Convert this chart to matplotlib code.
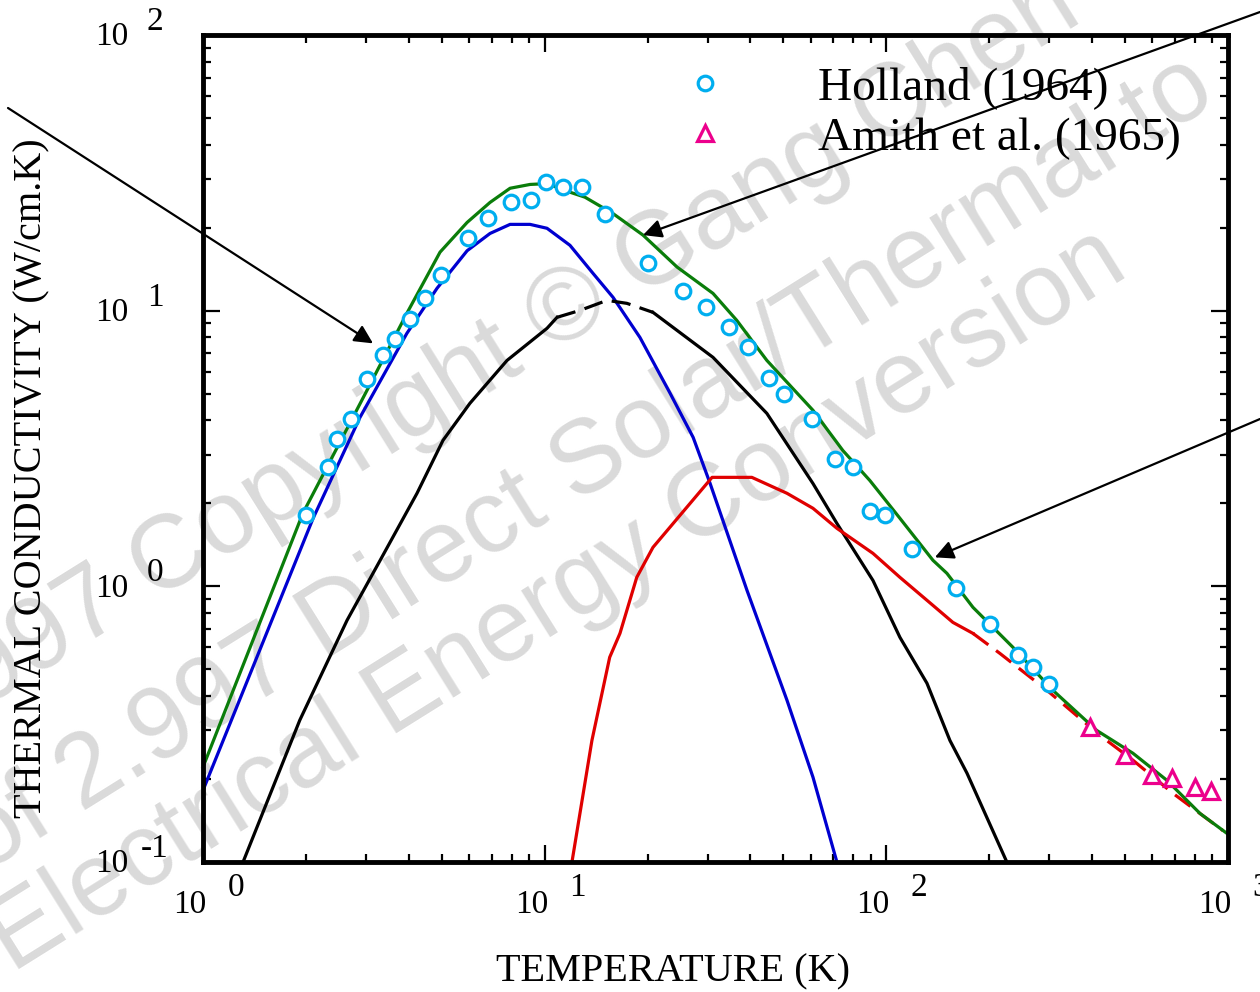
import matplotlib
matplotlib.use("Agg")
import matplotlib.pyplot as plt

plt.rcParams['font.family'] = ['Liberation Serif', 'DejaVu Serif']

# Holland (1964) measurements
holland_T = [2.0, 2.32, 2.47, 2.71, 3.02, 3.36, 3.65, 4.03, 4.46, 4.97, 5.96, 6.82,
             7.97, 9.12, 10.1, 11.3, 12.9, 15.0, 20.1, 25.4, 29.6, 34.6, 39.4, 45.3,
             50.2, 60.6, 70.7, 79.8, 89.5, 99.1, 119, 160, 201, 243, 269, 299]
holland_k = [1.81, 2.70, 3.41, 4.03, 5.63, 6.88, 7.87, 9.30, 11.1, 13.5, 18.3, 21.6,
             24.7, 25.3, 29.2, 28.2, 28.2, 22.4, 14.9, 11.8, 10.3, 8.70, 7.36, 5.68,
             4.97, 4.03, 2.89, 2.70, 1.87, 1.81, 1.37, 0.99, 0.728, 0.562, 0.508, 0.441]

# Amith et al. (1965)
amith_T = [394, 499, 599, 685, 800, 891]
amith_k = [0.308, 0.244, 0.206, 0.201, 0.187, 0.181]

# total (green)
total_T = [1.0, 1.96, 3.02, 3.95, 4.94, 5.93, 6.92, 7.92, 9.06, 10.16, 11.86, 13.12,
           15.85, 19.4, 24.4, 31.1, 36.5, 44.7, 61.0, 74.6, 89.5, 109.6, 136.9, 150.4,
           179.3, 234.7, 307, 413, 527, 662, 828, 993]
total_k = [0.221, 1.84, 5.14, 9.78, 16.3, 20.9, 24.7, 27.8, 28.7, 28.9, 26.9, 25.8,
           22.5, 18.8, 14.4, 11.55, 9.22, 6.60, 4.35, 3.11, 2.42, 1.765, 1.243, 1.115,
           0.839, 0.601, 0.420, 0.300, 0.248, 0.198, 0.150, 0.127]

# blue branch
blue_T = [1.0, 2.10, 2.88, 3.95, 4.84, 5.93, 6.92, 7.92, 9.06, 10.16, 11.86, 13.85,
          15.85, 19.0, 23.3, 27.2, 30.5, 39.1, 51.2, 61.0, 71.7]
blue_k = [0.182, 1.765, 4.10, 8.27, 12.05, 16.5, 19.06, 20.56, 20.56, 19.9, 17.26, 13.66,
          11.18, 8.0, 5.01, 3.47, 2.36, 0.967, 0.386, 0.203, 0.0998]

# black branch (solid / dashed / solid)
black1_T = [1.31, 1.92, 2.64, 3.30, 4.23, 5.04, 6.04, 7.76, 10.16, 10.87]
black1_k = [0.1, 0.327, 0.753, 1.243, 2.175, 3.385, 4.61, 6.60, 8.63, 9.46]
black2_T = [10.87, 12.68, 15.22, 17.41, 20.75]
black2_k = [9.46, 10.02, 10.90, 10.63, 9.86]
black3_T = [20.75, 31.1, 44.7, 61.0, 71.7, 91.4, 109.6, 131.5, 153.5, 172.2, 225.4]
black3_k = [9.86, 6.77, 4.24, 2.36, 1.69, 1.05, 0.653, 0.445, 0.276, 0.210, 0.0998]

# red branch (solid / dashed)
red1_T = [12.02, 13.75, 15.5, 16.61, 18.6, 20.75, 30.9, 40.4, 51.2, 61.0, 71.7, 91.4,
          109.6, 136.9, 156.6, 179.3]
red1_k = [0.1, 0.276, 0.553, 0.675, 1.078, 1.385, 2.485, 2.485, 2.175, 1.919, 1.623,
          1.317, 1.078, 0.853, 0.740, 0.675]
red2_T = [179.3, 215, 295, 422, 527, 690, 966]
red2_k = [0.675, 0.571, 0.420, 0.288, 0.234, 0.1775, 0.130]

x_ticks = [1, 10, 100, 1000]
x_exps = ['0', '1', '2', '3']
y_ticks = [0.1, 1, 10, 100]
y_exps = ['-1', '0', '1', '2']

W, H = 1260, 992
fig = plt.figure(figsize=(W / 100, H / 100), dpi=100)
ax = fig.add_axes([203 / W, 1 - 862 / H, (1228 - 203) / W, (862 - 35) / H])
ax.set_zorder(1)
ax.patch.set_alpha(0)

# watermark
wm = dict(rotation=32, ha='center', va='center', fontsize=74, color='#dadada',
          family='Liberation Sans', zorder=0)
fig.text(484 / W, 1 - 364 / H, '2.997 Copyright \u00a9 Gang Chen', **wm)
fig.text(588 / W, 1 - 464 / H, 'of 2.997 Direct Solar/Thermal to', **wm)
fig.text(558 / W, 1 - 601 / H, 'Electrical Energy Conversion', **wm)

lw = 2.3
ax.plot(blue_T, blue_k, color='#0000d0', lw=lw)
ax.plot(black1_T, black1_k, color='black', lw=lw)
ax.plot(black2_T, black2_k, color='black', lw=lw, dashes=(6, 3))
ax.plot(black3_T, black3_k, color='black', lw=lw)
ax.plot(red1_T, red1_k, color='#e00000', lw=lw)
ax.plot(red2_T, red2_k, color='#e00000', lw=lw, dashes=(6, 3))
ax.plot(total_T, total_k, color='#0a7d0a', lw=lw)

ax.plot(holland_T, holland_k, 'o', ms=10.5, mew=2.3, mfc='white', mec='#00aeef',
        ls='none', label='Holland (1964)')
ax.plot(amith_T, amith_k, '^', ms=11, mew=2.3, mfc='white', mec='#ec008c',
        ls='none', label='Amith et al. (1965)')

ax.set_xscale('log')
ax.set_yscale('log')
ax.set_xlim(1, 1000)
ax.set_ylim(0.1, 100)

for s in ax.spines.values():
    s.set_linewidth(3.5)
ax.tick_params(which='both', direction='in', top=True, right=True, width=1.6,
               labelbottom=False, labelleft=False)
ax.tick_params(which='major', length=12)
ax.tick_params(which='minor', length=6)

# tick labels drawn as "10" plus a raised exponent
for t, e in zip(x_ticks, x_exps):
    ax.annotate('10', xy=(t, 0), xycoords=('data', 'axes fraction'),
                xytext=(-9.5, -31), textcoords='offset points',
                ha='center', va='center', fontsize=24, annotation_clip=False)
    ax.annotate(e, xy=(t, 0), xycoords=('data', 'axes fraction'),
                xytext=(23.5, -18.5), textcoords='offset points',
                ha='center', va='center', fontsize=24, annotation_clip=False)
for t, e in zip(y_ticks, y_exps):
    ax.annotate('10', xy=(0, t), xycoords=('axes fraction', 'data'),
                xytext=(-65.5, -1.5), textcoords='offset points',
                ha='center', va='center', fontsize=24, annotation_clip=False)
    ax.annotate(e, xy=(0, t), xycoords=('axes fraction', 'data'),
                xytext=(-34.5, 9.5), textcoords='offset points',
                ha='center', va='center', fontsize=24, annotation_clip=False)

fig.text(673 / W, 1 - 972 / H, 'TEMPERATURE (K)', ha='center', va='center', fontsize=29)
fig.text(32 / W, 1 - 478 / H, 'THERMAL CONDUCTIVITY (W/cm.K)', ha='center', va='center',
         rotation=90, fontsize=29)

ax.legend(loc='upper left', bbox_to_anchor=(681 / W, 1 - 66 / H),
          bbox_transform=fig.transFigure, frameon=False, fontsize=34,
          handlelength=1.0, handletextpad=1.9, labelspacing=0.16,
          borderpad=0, borderaxespad=0)

# callout arrows
arrow = dict(arrowstyle='-|>', color='black', lw=1.6, mutation_scale=28,
             shrinkA=0, shrinkB=0)
ax.annotate('', xy=(3.145, 7.61), xycoords='data',
            xytext=(8 / W, 1 - 108 / H), textcoords='figure fraction',
            arrowprops=arrow, annotation_clip=False)
ax.annotate('', xy=(19.4, 18.8), xycoords='data',
            xytext=(1.0, 1 - 12 / H), textcoords='figure fraction',
            arrowprops=arrow, annotation_clip=False)
ax.annotate('', xy=(138.7, 1.274), xycoords='data',
            xytext=(1.0, 1 - 419 / H), textcoords='figure fraction',
            arrowprops=arrow, annotation_clip=False)

fig.savefig('out.png', dpi=100)
